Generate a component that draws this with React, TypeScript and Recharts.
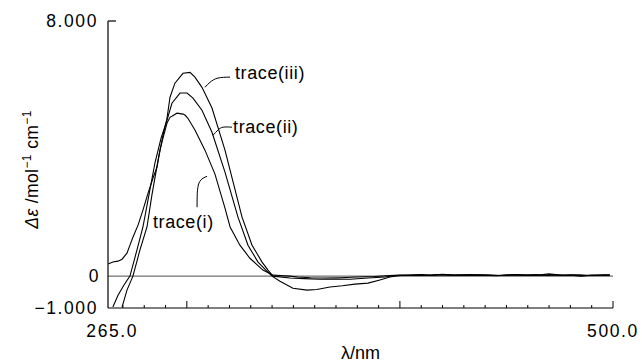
import { LineChart, Line, XAxis, YAxis, ReferenceLine, ReferenceDot } from 'recharts';

// [wavelength nm, delta epsilon]
const TRACE_I: [number, number][] = [
  [263.0, 0.38], [265.3, 0.44], [267.7, 0.47], [269.6, 0.53], [271.9, 0.72], [273.3, 0.97],
  [274.7, 1.22], [277.1, 1.6], [279.4, 2.07], [281.8, 2.6], [284.1, 3.07], [286.0, 3.42],
  [287.4, 3.95], [288.8, 4.33], [290.7, 4.8], [292.1, 4.98], [295.4, 5.11], [298.2, 5.08],
  [299.1, 5.05], [300.5, 4.95], [303.8, 4.58], [308.5, 3.95], [313.2, 3.2], [317.9, 2.13],
  [320.3, 1.54], [324.9, 0.97], [329.6, 0.56], [335.7, 0.19], [340.4, 0.03], [344, 0.02],
  [348.4, 0.0], [352, -0.03], [358, -0.05], [365, -0.06], [372, -0.05], [380, -0.03],
  [388, -0.01], [395, 0.02], [400, 0.03], [405, 0.02], [410, 0.05], [415, 0.03],
  [420, 0.06], [425, 0.03], [430, 0.04], [435, 0.02], [440, 0.03], [445, 0.01],
  [450, 0.03], [455, 0.05], [460, 0.02], [465, 0.03], [470, 0.07], [475, 0.02],
  [480, 0.03], [485, 0.0], [490, 0.03], [495, 0.02], [498.5, 0.03],
];

const TRACE_II: [number, number][] = [
  [265.3, -0.97], [267.7, -0.6], [270.5, -0.28], [273.3, 0], [276.6, 0.82], [279.4, 1.54],
  [282.2, 2.54], [285.1, 3.57], [287.9, 4.33], [290.7, 4.89], [293.0, 5.42], [296.8, 5.74],
  [300.1, 5.74], [302.9, 5.58], [307.1, 5.2], [311.8, 4.51], [317.9, 3.26], [324.0, 1.85],
  [328.7, 0.97], [333.4, 0.44], [337.1, 0.19], [340.0, 0], [343.7, -0.16], [349.8, -0.38],
  [356.4, -0.44], [361, -0.42], [367.2, -0.34], [373, -0.3], [378.9, -0.25], [385, -0.22],
  [390.6, -0.12], [395.3, -0.03], [400, 0.02], [406, 0.03], [412, 0.02], [418, 0.05],
  [424, 0.03], [430, 0.02], [436, 0.04], [442, 0.03], [448, 0.02], [454, 0.04],
  [460, 0.03], [466, 0.02], [472, 0.06], [478, 0.02], [484, 0.03], [490, 0.02],
  [496, 0.04], [498.5, 0.03],
];

const TRACE_III: [number, number][] = [
  [269.6, -0.97], [271.9, -0.44], [274.7, 0], [278.0, 0.82], [281.3, 1.54], [283.6, 2.54],
  [286.5, 3.64], [288.8, 4.42], [290.7, 4.95], [292.1, 5.61], [294.4, 6.05], [298.2, 6.36],
  [301.5, 6.39], [303.8, 6.24], [307.1, 5.92], [311.8, 5.27], [317.9, 3.95], [325.9, 1.85],
  [330.6, 0.97], [335.3, 0.44], [338.1, 0.19], [340.4, 0], [348.4, -0.06], [355, -0.08],
  [362.5, -0.1], [370, -0.09], [376.6, -0.1], [385, -0.06], [393.0, -0.03], [398, 0.02],
  [404, 0.03], [409, 0.04], [414, 0.02], [420, 0.04], [427, 0.03], [433, 0.05],
  [439, 0.03], [446, 0.02], [452, 0.04], [458, 0.03], [464, 0.05], [469, 0.02],
  [476, 0.03], [482, 0.04], [488, 0.02], [494, 0.03], [498.5, 0.03],
];

// leader lines from each curve to its label
const LEADER_I: [number, number][] = [[304.8, 2.16], [304.9, 2.6], [305.7, 2.92], [307.6, 3.07], [309.5, 3.13]];
const LEADER_II: [number, number][] = [[312.3, 4.42], [314.6, 4.58], [317.0, 4.67], [321.2, 4.67]];
const LEADER_III: [number, number][] = [[308.5, 5.92], [310.9, 6.08], [314.6, 6.21], [320.3, 6.24]];

const LABELS = [
  { text: 'trace(iii)', x: 322.6, y: 6.36 },
  { text: 'trace(ii)', x: 321.7, y: 4.67 },
  { text: 'trace(i)', x: 284.1, y: 1.69 },
];

const X_LABEL_TICKS = [265, 500];
const X_MARK_TICKS = [270, 280, 290, 300, 310, 320, 330, 340, 350, 360, 370, 380, 390, 400, 410, 420, 430, 440, 450, 460, 470, 480, 490, 500];
const X_MAJOR = [300, 400, 500];
const Y_TICKS = [-1, 0, 8];

const X_MIN = 263;
const X_MAX = 500;
const Y_MIN = -1;
const Y_MAX = 8;

const FONT = '"Liberation Sans", Arial, Helvetica, sans-serif';

const toPts = (pairs: [number, number][]) => pairs.map(([x, y]) => ({ x, y }));

const XTick = ({ x, y, payload }: any) => (
  <text x={x} y={y + 28} textAnchor="middle" fontFamily={FONT} fontSize={17.5} letterSpacing={1.6} fill="#000">
    {payload.value.toFixed(1)}
  </text>
);

const YTick = ({ x, y, payload }: any) => {
  const v = payload.value;
  const txt = v === 0 ? '0' : v < 0 ? '\u2212' + Math.abs(v).toFixed(3) : v.toFixed(3);
  return (
    <text x={v === 0 ? x - 7 : x - 9} y={y + 6} textAnchor="end" fontFamily={FONT} fontSize={17.5} letterSpacing={1.6} fill="#000">
      {txt}
    </text>
  );
};

const XTitle = ({ viewBox }: any) => (
  <text x={viewBox.x + viewBox.width / 2} y={viewBox.y + 51} textAnchor="middle" fontFamily={FONT} fontSize={18} fill="#000">
    λ/nm
  </text>
);

const YTitle = ({ viewBox }: any) => (
  <text
    transform={`translate(38, ${viewBox.y + viewBox.height / 2 + 5}) rotate(-90)`}
    textAnchor="middle"
    fontFamily={FONT}
    fontSize={17.5}
    letterSpacing={0.4}
    fill="#000"
  >
    <tspan fontStyle="italic">Δε</tspan>
    <tspan> /mol</tspan>
    <tspan dy={-7} fontSize={12}>−1</tspan>
    <tspan dy={7}>  cm</tspan>
    <tspan dy={-7} fontSize={12}>−1</tspan>
  </text>
);

const LabelShape = (text: string) => (props: any) => (
  <text x={props.cx} y={props.cy + 6} fontFamily={FONT} fontSize={18} letterSpacing={0.6} fill="#000">
    {text}
  </text>
);

export default function App() {
  const traces = [TRACE_I, TRACE_II, TRACE_III];
  const leaders = [LEADER_I, LEADER_II, LEADER_III];
  // tick marks point up into the plot: minor ~3px, major ~7px (in data units of the y scale)
  const pxY = (Y_MAX - Y_MIN) / 287;
  const pxX = (X_MAX - X_MIN) / 505;
  return (
    <div style={{ width: 642, height: 364, background: '#fff' }}>
      <style>{'body{margin:0;background:#fff}'}</style>
      <LineChart width={642} height={364} margin={{ top: 21, right: 29, bottom: 55, left: 107 }}>
        <XAxis
          dataKey="x"
          type="number"
          domain={[X_MIN, X_MAX]}
          allowDataOverflow
          ticks={X_LABEL_TICKS}
          interval={0}
          height={1}
          tickSize={1}
          tickMargin={0}
          tickLine={false}
          tick={<XTick />}
          axisLine={{ stroke: '#000', strokeWidth: 1.2 }}
          label={{ content: XTitle }}
        />
        <YAxis
          dataKey="y"
          type="number"
          domain={[Y_MIN, Y_MAX]}
          allowDataOverflow
          ticks={Y_TICKS}
          interval={0}
          width={1}
          tickSize={1}
          tickMargin={0}
          tickLine={false}
          tick={<YTick />}
          axisLine={{ stroke: '#000', strokeWidth: 1.2 }}
          label={{ content: YTitle }}
        />
        <ReferenceLine y={0} stroke="#000" strokeWidth={0.7} />
        {X_MARK_TICKS.map((v) => (
          <ReferenceLine
            key={`xt-${v}`}
            segment={[{ x: v, y: Y_MIN }, { x: v, y: Y_MIN + (X_MAJOR.includes(v) ? 7 : 3) * pxY }]}
            stroke="#000"
            strokeWidth={1}
          />
        ))}
        <ReferenceLine
          segment={[{ x: X_MIN, y: Y_MAX }, { x: X_MIN + 8 * pxX, y: Y_MAX }]}
          stroke="#000"
          strokeWidth={1.2}
        />
        {traces.map((t, i) => (
          <Line
            key={`trace-${i}`}
            data={toPts(t)}
            dataKey="y"
            type="linear"
            stroke="#000"
            strokeWidth={1.1}
            dot={false}
            activeDot={false}
            isAnimationActive={false}
          />
        ))}
        {leaders.map((t, i) => (
          <Line
            key={`leader-${i}`}
            data={toPts(t)}
            dataKey="y"
            type="natural"
            stroke="#000"
            strokeWidth={1}
            dot={false}
            activeDot={false}
            isAnimationActive={false}
          />
        ))}
        {LABELS.map((l) => (
          <ReferenceDot key={l.text} x={l.x} y={l.y} r={0} shape={LabelShape(l.text)} />
        ))}
      </LineChart>
    </div>
  );
}
